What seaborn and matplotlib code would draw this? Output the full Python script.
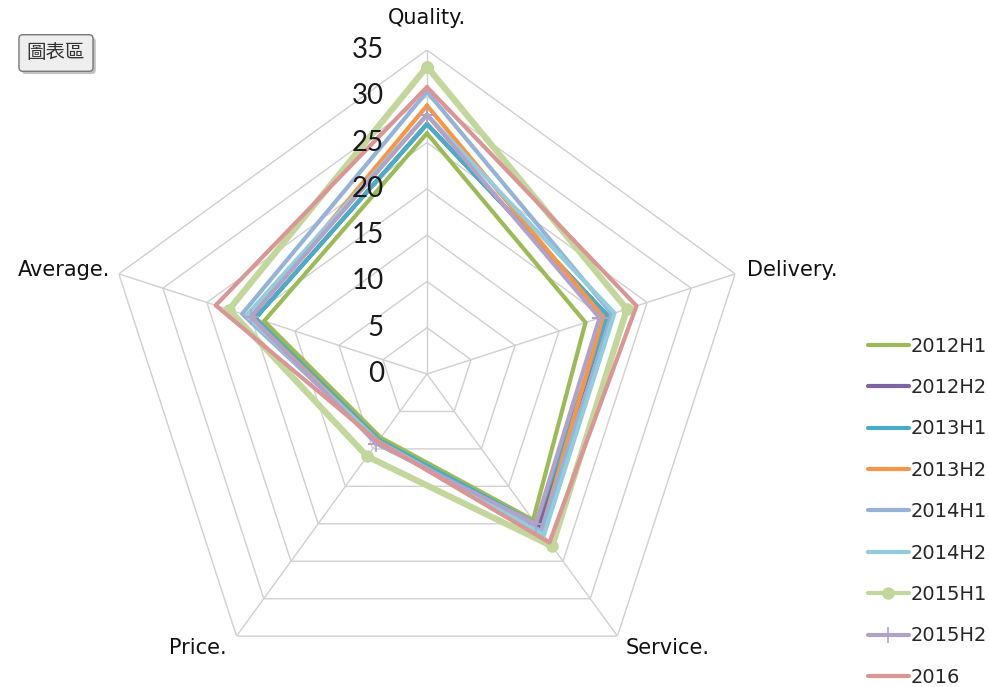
import numpy as np
import pandas as pd
import matplotlib
matplotlib.use("Agg")
import matplotlib.pyplot as plt
import matplotlib.patheffects as pe
from matplotlib.transforms import ScaledTranslation
import seaborn as sns

categories = ["Quality.", "Delivery.", "Service.", "Price.", "Average."]
series_names = ["2012H1", "2012H2", "2013H1", "2013H2", "2014H1",
                "2014H2", "2015H1", "2015H2", "2016"]
quality  = [26.0, 27.0, 27.0, 29.0, 30.5, 28.0, 33.2, 28.0, 31.0]
delivery = [18.0, 20.5, 20.5, 20.0, 21.0, 21.3, 22.7, 19.6, 23.8]
service  = [19.5, 20.5, 20.0, 21.0, 21.0, 21.5, 23.0, 20.0, 22.5]
price    = [8.5, 9.0, 8.8, 9.0, 9.0, 9.0, 11.0, 9.3, 9.0]
average  = [18.5, 19.5, 19.5, 20.0, 21.0, 20.5, 22.5, 20.0, 24.0]
ring_values = [0, 5, 10, 15, 20, 25, 30, 35]
colors = ["#9BBB59", "#8064A2", "#4BACC6", "#F79646", "#95B3D7",
          "#93CDDD", "#C3D69B", "#B3A2C7", "#D99694"]

sns.set_theme(style="white")
plt.rcParams["font.family"] = ["DejaVu Sans", "Noto Sans CJK TC"]

fig = plt.figure(figsize=(9.89, 6.87), dpi=100)
W, H = 989, 687
cx, cy, R = 427, 374, 324
ax = fig.add_axes([(cx - R) / W, (H - cy - R) / H, 2 * R / W, 2 * R / H],
                  projection="polar")
ax.set_theta_zero_location("N")
ax.set_theta_direction(-1)
ax.set_ylim(0, 35)
ax.grid(False)
ax.spines["polar"].set_visible(False)
ax.set_facecolor("none")

n = len(categories)
theta = np.linspace(0, 2 * np.pi, n, endpoint=False)
theta_closed = np.append(theta, theta[0])

# pentagon grid rings and spokes
grid_col = "#D0D0D0"
for v in ring_values[1:]:
    ax.plot(theta_closed, [v] * (n + 1), color=grid_col, lw=1.0, zorder=1)
for t in theta:
    ax.plot([t, t], [0, 35], color=grid_col, lw=1.0, zorder=1)

# radial value labels along the top spoke, drawn above the series lines
off = ax.transData + ScaledTranslation(-0.43, 0, fig.dpi_scale_trans)
for v in ring_values:
    ax.text(0, v, str(v), transform=off, ha="right", va="center",
            fontsize=20, color="#1A1A1A", zorder=6,
            family=["Lato", "DejaVu Sans"], fontweight="normal")

# category labels around the outer ring
label_offsets = [((0, 32), "center"), ((12, 4), "left"), ((8, -12), "left"),
                 ((-10, -12), "right"), ((-9, 4), "right")]
for t, lab, (offs, ha) in zip(theta, categories, label_offsets):
    ax.annotate(lab, xy=(t, 35), xytext=offs, textcoords="offset pixels",
                ha=ha, va="center", fontsize=15, color="#111111")

# data series
values = np.column_stack([quality, delivery, service, price, average])
rows = []
for name, vals in zip(series_names, values):
    for t, v in zip(theta_closed, np.append(vals, vals[0])):
        rows.append({"series": name, "theta": t, "value": v})
df = pd.DataFrame(rows)

styles = {name: dict(lw=3.0, marker=None, ms=0) for name in series_names}
styles["2015H1"] = dict(lw=4.5, marker="o", ms=9)
styles["2015H2"] = dict(lw=3.0, marker="+", ms=11)

handles = []
for name, col in zip(series_names, colors):
    st = styles[name]
    sub = df[df["series"] == name]
    kw = dict(lw=st["lw"], color=col, zorder=3)
    if st["marker"]:
        kw.update(marker=st["marker"], markersize=st["ms"],
                  markeredgecolor=col, markerfacecolor=col,
                  markeredgewidth=1.2 if st["marker"] == "+" else 0)
    sns.lineplot(data=sub, x="theta", y="value", ax=ax, sort=False,
                 estimator=None, legend=False, **kw)
    hkw = {k: v for k, v in kw.items() if k != "zorder"}
    hkw["lw"] = 3.0
    h, = plt.plot([], [], label=name, **hkw)
    handles.append(h)

ax.set_xlabel("")
ax.set_ylabel("")
ax.set_xticks([])
ax.set_yticks([])
ax.set_ylim(0, 35)

leg = fig.legend(handles=handles, loc="upper left",
                 bbox_to_anchor=(860 / W, 1 - 329 / H), frameon=False,
                 fontsize=14, handlelength=2.1, handletextpad=0.12,
                 labelspacing=1.15, borderaxespad=0)

# chart-area button
btn = fig.text(56 / W, 1 - 53 / H, "圖表區", ha="center", va="center",
               fontsize=14, color="#333333",
               family=["Noto Sans CJK TC", "DejaVu Sans"],
               bbox=dict(boxstyle="round,pad=0.4,rounding_size=0.2",
                         facecolor="#EEEEEE", edgecolor="#777777", lw=1.0))
btn.get_bbox_patch().set_path_effects([
    pe.SimplePatchShadow(offset=(2, -2), shadow_rgbFace="#999999", alpha=0.6),
    pe.Normal()])

fig.savefig("out.png", dpi=100)
